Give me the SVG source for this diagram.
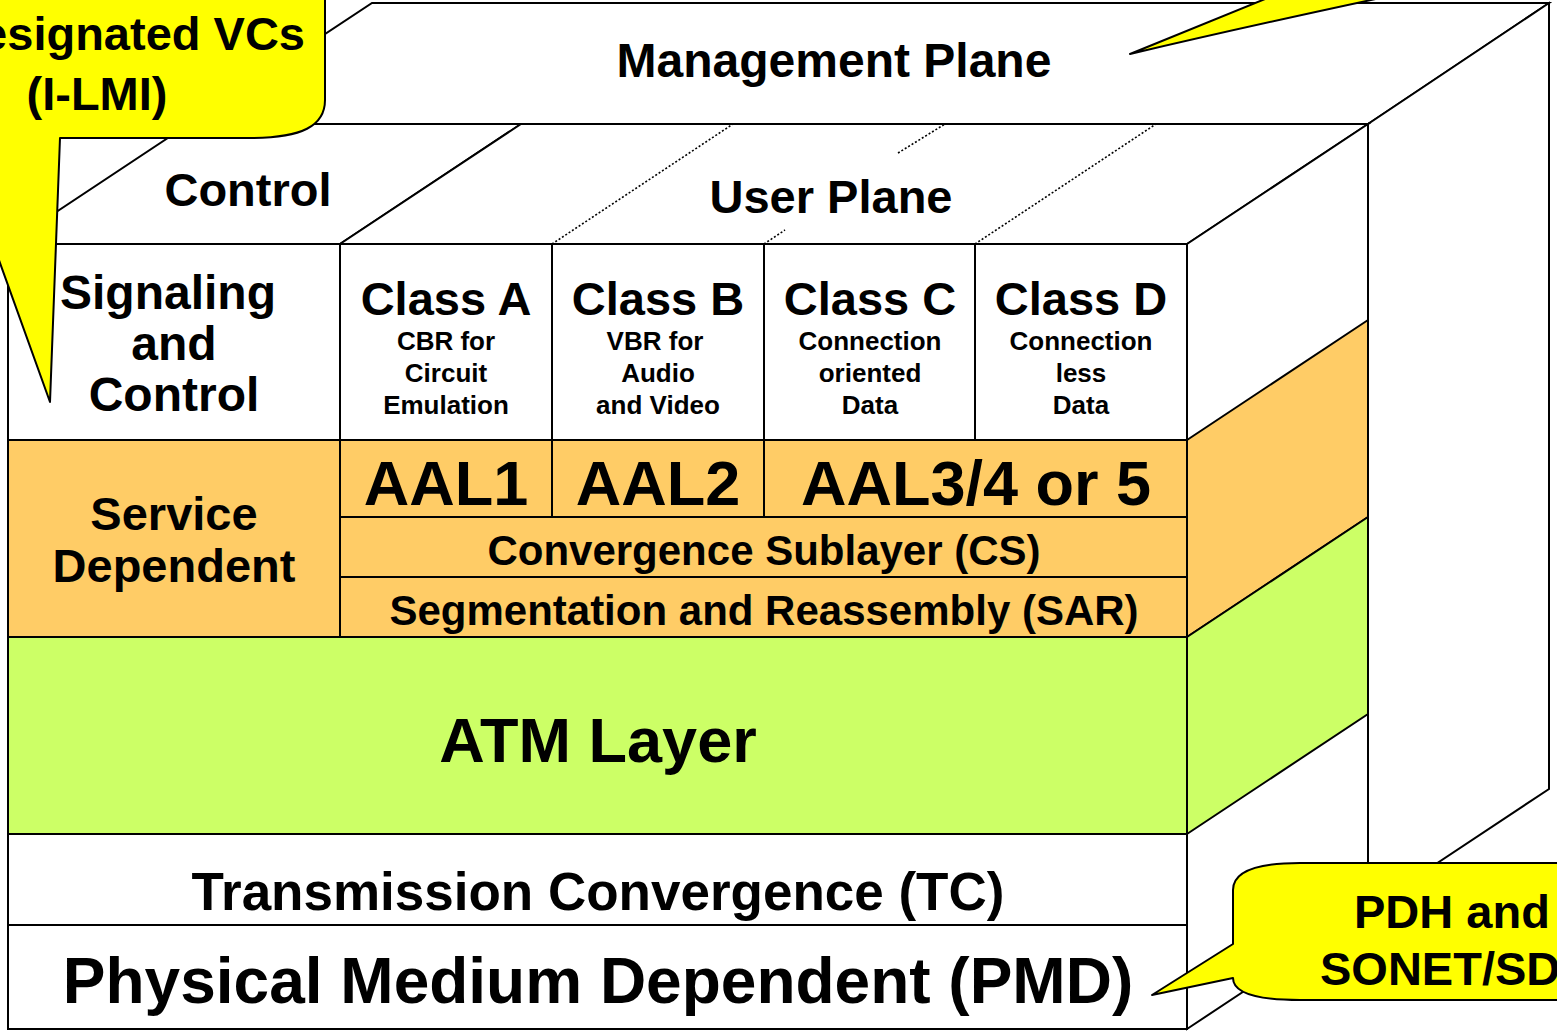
<svg xmlns="http://www.w3.org/2000/svg" width="1557" height="1031" viewBox="0 0 1557 1031">
<style>
.f{stroke:#000;stroke-width:2;stroke-linejoin:miter}
.w{fill:#fff}
.or{fill:#FFCC66}
.gr{fill:#CCFF66}
.dot{stroke:#000;stroke-width:1.6;stroke-dasharray:2 2;fill:none}
.t{font-family:"Liberation Sans",Arial,sans-serif;font-weight:bold;fill:#000;text-anchor:middle}
.h{font-size:48px}
.m{font-size:47px}
.s{font-size:26px}
.a{font-size:63px}
.c{font-size:42px}
.co{fill:#FFFF00;stroke:#000;stroke-width:2;stroke-linejoin:round}
</style>
<rect width="1557" height="1031" fill="#fff"/>

<g id="management-plane">
  <polygon class="f w" points="189,124 1368,124 1549,3 372,3"/>
  <polygon class="f w" points="1368,124 1549,3 1549,789 1368,909"/>
  <text class="t h" x="834" y="77">Management Plane</text>
</g>

<g id="control-plane">
  <polygon class="f w" points="8,244 340,244 521,124 189,124"/>
  <text class="t m" x="248" y="206">Control</text>
</g>

<g id="user-plane">
  <polygon class="f w" points="340,244 1187,244 1368,124 521,124"/>
  <path class="dot" d="M552,244 L733,124 M764,244 L785,230 M898,153 L945,124 M975,244 L1156,124"/>
  <text class="t m" x="831" y="213">User Plane</text>
</g>

<g id="side-face">
  <polygon class="f w" points="1187,244 1368,124 1368,909 1187,1029"/>
  <polygon class="f or" points="1187,440 1368,320 1368,517 1187,637"/>
  <polygon class="f gr" points="1187,637 1368,517 1368,714 1187,834"/>
</g>

<g id="signaling-and-control">
  <rect class="f w" x="8" y="244" width="332" height="196"/>
  <text class="t h" x="168" y="309">Signaling</text>
  <text class="t h" x="174" y="360">and</text>
  <text class="t h" x="174" y="411">Control</text>
</g>

<g id="class-a">
  <rect class="f w" x="340" y="244" width="212" height="196"/>
  <text class="t m" x="446" y="315">Class A</text>
  <text class="t s" x="446" y="350">CBR for</text>
  <text class="t s" x="446" y="382">Circuit</text>
  <text class="t s" x="446" y="414">Emulation</text>
</g>

<g id="class-b">
  <rect class="f w" x="552" y="244" width="212" height="196"/>
  <text class="t m" x="658" y="315">Class B</text>
  <text class="t s" x="655" y="350">VBR for</text>
  <text class="t s" x="658" y="382">Audio</text>
  <text class="t s" x="658" y="414">and Video</text>
</g>

<g id="class-c">
  <rect class="f w" x="764" y="244" width="211" height="196"/>
  <text class="t m" x="870" y="315">Class C</text>
  <text class="t s" x="870" y="350">Connection</text>
  <text class="t s" x="870" y="382">oriented</text>
  <text class="t s" x="870" y="414">Data</text>
</g>

<g id="class-d">
  <rect class="f w" x="975" y="244" width="212" height="196"/>
  <text class="t m" x="1081" y="315">Class D</text>
  <text class="t s" x="1081" y="350">Connection</text>
  <text class="t s" x="1081" y="382">less</text>
  <text class="t s" x="1081" y="414">Data</text>
</g>

<g id="service-dependent">
  <rect class="f or" x="8" y="440" width="332" height="197"/>
  <text class="t m" x="174" y="530">Service</text>
  <text class="t m" x="174" y="582">Dependent</text>
</g>

<g id="aal1">
  <rect class="f or" x="340" y="440" width="212" height="77"/>
  <text class="t a" x="446" y="505">AAL1</text>
</g>

<g id="aal2">
  <rect class="f or" x="552" y="440" width="212" height="77"/>
  <text class="t a" x="658" y="505">AAL2</text>
</g>

<g id="aal34-5">
  <rect class="f or" x="764" y="440" width="423" height="77"/>
  <text class="t a" x="976" y="505">AAL3/4 or 5</text>
</g>

<g id="cs">
  <rect class="f or" x="340" y="517" width="847" height="60"/>
  <text class="t c" x="764" y="565">Convergence Sublayer (CS)</text>
</g>

<g id="sar">
  <rect class="f or" x="340" y="577" width="847" height="60"/>
  <text class="t c" x="764" y="625">Segmentation and Reassembly (SAR)</text>
</g>

<g id="atm-layer">
  <rect class="f gr" x="8" y="637" width="1179" height="197"/>
  <text class="t a" x="598" y="762">ATM Layer</text>
</g>

<g id="tc">
  <rect class="f w" x="8" y="834" width="1179" height="91"/>
  <text class="t" style="font-size:53px" x="598" y="910">Transmission Convergence (TC)</text>
</g>

<g id="pmd">
  <rect class="f w" x="8" y="925" width="1179" height="104"/>
  <text class="t" style="font-size:64px" x="598" y="1003">Physical Medium Dependent (PMD)</text>
</g>

<g id="callouts">
  <g id="callout-ilmi">
    <path class="co" d="M-60,-60 H325 V100 C325,126 302,138 250,138 H60 L50,402 L-45,138 Z"/>
    <text class="t m" style="text-anchor:end" x="305" y="50">Designated VCs</text>
    <text class="t m" x="97" y="110">(I-LMI)</text>
  </g>
  <g id="callout-management">
    <path class="co" d="M1130,54 L1270,-3 H1385 Q1240,28 1130,54 Z"/>
  </g>
  <g id="callout-pdh">
    <path class="co" d="M1600,863 H1300 C1254,863 1233,872 1233,890 V944 L1152,995 L1233,978 C1233,992 1254,1000 1300,1000 H1600 Z"/>
    <text class="t m" style="text-anchor:start" x="1354" y="928">PDH and</text>
    <text class="t m" style="text-anchor:start" x="1320" y="985">SONET/SDH</text>
  </g>
</g>
</svg>
